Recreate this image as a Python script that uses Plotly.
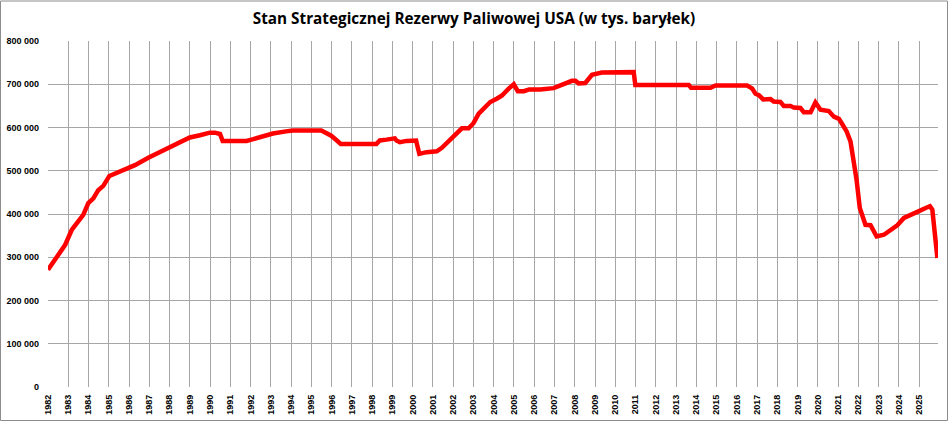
import plotly.graph_objects as go

# SPR stock, thousand barrels
years = [
    1982.0, 1982.43, 1982.84, 1983.17, 1983.5, 1983.74, 1983.99, 1984.24, 1984.48, 1984.73,
    1985.03, 1985.39, 1985.72, 1986.29, 1986.95, 1987.53, 1988.02, 1988.51, 1989.0, 1989.5,
    1989.99, 1990.24, 1990.49, 1990.62, 1991.8, 1992.13, 1992.6, 1993.1, 1993.75, 1994.08,
    1995.49, 1995.74, 1995.98, 1996.23, 1996.45, 1998.21, 1998.38, 1998.71, 1999.12, 1999.2,
    1999.37, 1999.7, 2000.17, 2000.23, 2000.33, 2000.69, 2001.19, 2001.44, 2001.85, 2002.18,
    2002.43, 2002.76, 2003.0, 2003.26, 2003.59, 2003.83, 2004.17, 2004.41, 2004.74, 2004.99,
    2005.19, 2005.49, 2005.75, 2006.3, 2006.96, 2007.28, 2007.61, 2007.86, 2008.03, 2008.19,
    2008.52, 2008.69, 2008.85, 2009.34, 2010.91, 2010.99, 2011.9, 2012.39, 2013.63, 2013.74,
    2014.7, 2014.95, 2016.51, 2016.76, 2016.92, 2017.09, 2017.3, 2017.66, 2017.82, 2018.15,
    2018.32, 2018.65, 2018.81, 2019.14, 2019.31, 2019.64, 2019.88, 2020.13, 2020.54, 2020.79,
    2021.04, 2021.2, 2021.42, 2021.61, 2021.78, 2021.91, 2022.07, 2022.24, 2022.35, 2022.6,
    2022.73, 2022.9, 2023.26, 2023.59, 2023.92, 2024.25, 2024.58, 2024.91, 2025.32, 2025.53,
    2025.65, 2025.73, 2025.9,
]
stock = [
    271, 298, 328, 363, 382, 398, 425, 436, 455, 465,
    488, 495, 502, 513, 530, 544, 553, 565, 577, 582,
    588, 588, 585, 569, 569, 573, 580, 586, 591, 593,
    593, 587, 581, 571, 562, 562, 570, 572, 575, 570,
    566, 569, 570, 558, 539, 543, 545, 553, 572, 585,
    598, 598, 610, 632, 647, 659, 667, 674, 690, 700,
    684, 684, 688, 688, 691, 698, 703, 708, 708, 702,
    703, 713, 722, 727, 728, 698, 698, 696, 698, 692,
    692, 697, 697, 690, 678, 675, 665, 666, 660, 659,
    650, 650, 646, 645, 635, 635, 658, 641, 638, 625,
    620, 608, 591, 568, 525, 479, 414, 387, 375, 374,
    360, 348, 352, 364, 374, 391, 397, 405, 414, 418,
    410, 364, 298,
]

tick_years = list(range(1982, 2026))
y_vals = list(range(0, 800001, 100000))
y_text = ['0'] + ['%d 000' % (v // 1000) for v in y_vals[1:]]

fig = go.Figure()
fig.add_scatter(
    x=years, y=[v * 1000 for v in stock],
    mode='lines', line=dict(color='#FF0000', width=4.5),
    showlegend=False, hoverinfo='skip',
)

axis_font = dict(family='Liberation Sans', size=9, color='black')
fig.update_xaxes(
    range=[1982, 2025.93], tickvals=tick_years, ticktext=['<b>%d</b>' % y for y in tick_years],
    tickangle=-90, tickfont=axis_font, showgrid=True, gridcolor='#A6A6A6', gridwidth=1,
    zeroline=False, showline=False, ticks='', ticklabelstandoff=5, automargin=False,
)
fig.update_yaxes(
    range=[0, 800000], tickvals=y_vals, ticktext=['<b>%s</b>' % t for t in y_text],
    tickfont=axis_font, showgrid=True, gridcolor='#A6A6A6', gridwidth=1,
    zeroline=False, showline=False, ticks='', ticklabelstandoff=8, automargin=False,
)

# outer frame of the chart
fig.add_shape(type='rect', xref='paper', yref='paper',
              x0=-47.5 / 890, x1=1 + 9.5 / 890, y0=-33.5 / 346, y1=1 + 40 / 346,
              line=dict(color='#8C8C8C', width=1), fillcolor='rgba(0,0,0,0)')

fig.update_layout(
    width=948, height=421,
    margin=dict(l=48, r=10, t=41, b=34),
    paper_bgcolor='white', plot_bgcolor='white',
    title=dict(text='<b>Stan Strategicznej Rezerwy Paliwowej USA (w tys. baryłek)</b>',
               x=0.5, xanchor='center', y=0.955, yanchor='middle',
               font=dict(family='Open Sans', size=15.3, color='black')),
)

fig.write_html('out.html', config={'displayModeBar': False},
               post_script="document.body.style.margin='0';")
